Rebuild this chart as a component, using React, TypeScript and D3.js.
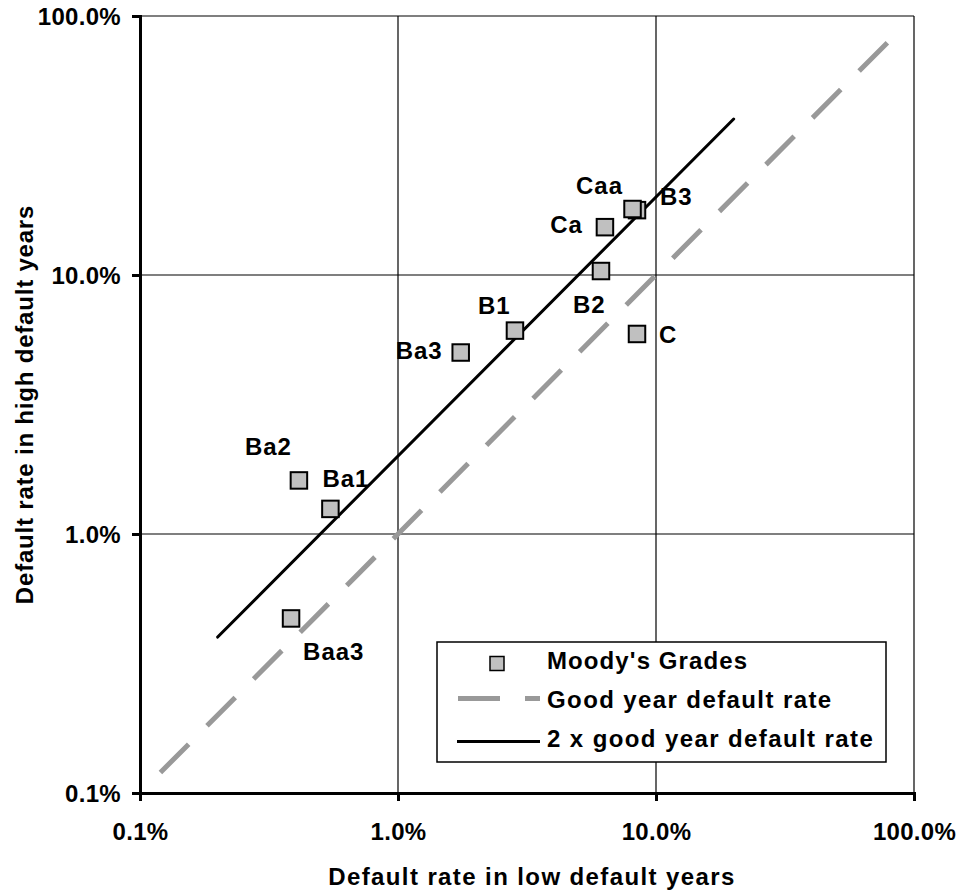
import React, { useRef, useEffect } from "react";
import * as d3 from "d3";

// Moody's grades: default rate in low (good) vs high default years, in %
const grades = ["Baa3", "Ba1", "Ba2", "Ba3", "B1", "B2", "B3", "Caa", "Ca", "C"];
const lowYearRate = [0.385, 0.547, 0.413, 1.75, 2.84, 6.12, 8.44, 8.11, 6.34, 8.44];
const highYearRate = [0.472, 1.25, 1.61, 5.02, 6.1, 10.36, 17.8, 17.98, 15.3, 5.92];

// reference lines
const goodYearLow = [0.12, 80];
const goodYearHigh = [0.12, 80];
const doubleLow = [0.2, 20];
const doubleHigh = [0.4, 40];

const tickValues = [0.1, 1, 10, 100];
const gridValues = [1, 10, 100];
const legendLabels = ["Moody's Grades", "Good year default rate", "2 x good year default rate"];

// label placement around each marker: dx, dy, anchor
const labelOffsets: Record<string, [number, number, string]> = {
  Baa3: [12, 41.5, "start"],
  Ba1: [-8, -22, "start"],
  Ba2: [-54, -25.5, "start"],
  Ba3: [-18, 6, "end"],
  B1: [-37, -17, "start"],
  B2: [-28, 42, "start"],
  B3: [23, -5, "start"],
  Caa: [-56.5, -15, "start"],
  Ca: [-22, 6, "end"],
  C: [22, 9, "start"],
};

const width = 966, height = 896;
const margin = { left: 140, right: 52, top: 16, bottom: 103 };
const FONT = "'Liberation Sans', Arial, sans-serif";
const DASH = "40 26";

const Chart = () => {
  const svgRef = useRef<SVGSVGElement>(null);

  useEffect(() => {
    const svg = d3.select(svgRef.current);
    svg.selectAll("*").remove();

    const x = d3.scaleLog().domain([0.1, 100]).range([margin.left, width - margin.right]);
    const y = d3.scaleLog().domain([0.1, 100]).range([height - margin.bottom, margin.top]);
    const [x0, x1] = x.range();
    const [y0, y1] = y.range();

    // gridlines
    const grid = svg.append("g");
    grid.selectAll(".gx").data(gridValues).join("line")
      .attr("x1", d => x(d)).attr("x2", d => x(d))
      .attr("y1", y0).attr("y2", y1)
      .attr("stroke", "#000").attr("stroke-width", 1.2);
    grid.selectAll(".gy").data(gridValues).join("line")
      .attr("y1", d => y(d)).attr("y2", d => y(d))
      .attr("x1", x0).attr("x2", x1)
      .attr("stroke", "#000").attr("stroke-width", 1.2);

    // reference lines
    const line = d3.line<number[]>()
      .x(d => x(d[0]))
      .y(d => y(d[1]));
    svg.append("path")
      .attr("d", line(goodYearLow.map((v, i) => [v, goodYearHigh[i]])))
      .attr("fill", "none").attr("stroke", "#999").attr("stroke-width", 5)
      .attr("stroke-dasharray", DASH);
    svg.append("path")
      .attr("d", line(doubleLow.map((v, i) => [v, doubleHigh[i]])))
      .attr("fill", "none").attr("stroke", "#000").attr("stroke-width", 3)
      .attr("stroke-linecap", "round");

    // markers
    const pts = grades.map((g, i) => ({ g, lx: lowYearRate[i], hy: highYearRate[i] }));
    const size = 16.5;
    svg.append("g").selectAll("rect").data(pts).join("rect")
      .attr("x", d => x(d.lx) - size / 2)
      .attr("y", d => y(d.hy) - size / 2)
      .attr("width", size).attr("height", size)
      .attr("fill", "#c0c0c0").attr("stroke", "#000").attr("stroke-width", 2);

    svg.append("g").selectAll("text").data(pts).join("text")
      .attr("x", d => x(d.lx) + labelOffsets[d.g][0])
      .attr("y", d => y(d.hy) + labelOffsets[d.g][1])
      .attr("text-anchor", d => labelOffsets[d.g][2])
      .attr("font-family", FONT).attr("font-weight", "bold").attr("font-size", 24)
      .attr("letter-spacing", 1)
      .text(d => d.g);

    // axes
    const fmt = (d: any) => d3.format(".1f")(d) + "%";
    const yAxis = svg.append("g")
      .attr("transform", `translate(${x0},0)`)
      .call(d3.axisLeft(y).tickValues(tickValues).tickFormat(fmt).tickSizeInner(8).tickSizeOuter(0).tickPadding(11));
    const xAxis = svg.append("g")
      .attr("transform", `translate(0,${y0})`)
      .call(d3.axisBottom(x).tickValues(tickValues).tickFormat(fmt).tickSizeInner(8).tickSizeOuter(0).tickPadding(22));
    [yAxis, xAxis].forEach(a => {
      a.attr("font-family", FONT).attr("font-size", 24).attr("font-weight", "bold");
      a.select(".domain").attr("stroke-width", 3).attr("stroke-linecap", "square");
      a.selectAll(".tick line").attr("stroke-width", 3);
      a.selectAll(".tick text").attr("fill", "#000").attr("letter-spacing", 0.3);
    });
    yAxis.selectAll(".tick text").attr("dy", "0.36em");

    // axis titles
    svg.append("text")
      .attr("x", (x0 + x1) / 2 + 5).attr("y", 885)
      .attr("text-anchor", "middle")
      .attr("font-family", FONT).attr("font-weight", "bold").attr("font-size", 24)
      .attr("letter-spacing", 1.4)
      .text("Default rate in low default years");
    svg.append("text")
      .attr("transform", `translate(33,${(y0 + y1) / 2}) rotate(-90)`)
      .attr("text-anchor", "middle")
      .attr("font-family", FONT).attr("font-weight", "bold").attr("font-size", 24)
      .attr("letter-spacing", 0.8)
      .text("Default rate in high default years");

    // legend
    const lg = svg.append("g");
    lg.append("rect")
      .attr("x", 437).attr("y", 642).attr("width", 449).attr("height", 120)
      .attr("fill", "#fff").attr("stroke", "#000").attr("stroke-width", 1.5);
    const sampleY = [663.5, 698.5, 741.5];
    const textY = [669, 707.5, 747];
    lg.append("rect")
      .attr("x", 497 - 7).attr("y", sampleY[0] - 7).attr("width", 14).attr("height", 14)
      .attr("fill", "#c0c0c0").attr("stroke", "#000").attr("stroke-width", 1.5);
    lg.append("line")
      .attr("x1", 458).attr("x2", 540).attr("y1", sampleY[1]).attr("y2", sampleY[1])
      .attr("stroke", "#999").attr("stroke-width", 5).attr("stroke-dasharray", "42 25");
    lg.append("line")
      .attr("x1", 457).attr("x2", 540).attr("y1", sampleY[2]).attr("y2", sampleY[2])
      .attr("stroke", "#000").attr("stroke-width", 3);
    lg.selectAll(".lt").data(legendLabels).join("text")
      .attr("x", 547).attr("y", (_, i) => textY[i])
      .attr("font-family", FONT).attr("font-weight", "bold").attr("font-size", 24)
      .attr("letter-spacing", (_, i) => (i === 0 ? 1.1 : 1.4))
      .text(d => d);
  }, []);

  return (
    <svg ref={svgRef} width={width} height={height}
      style={{ position: "absolute", left: 0, top: 0, display: "block", background: "#fff" }} />
  );
};

export default function App() {
  return <Chart />;
}
